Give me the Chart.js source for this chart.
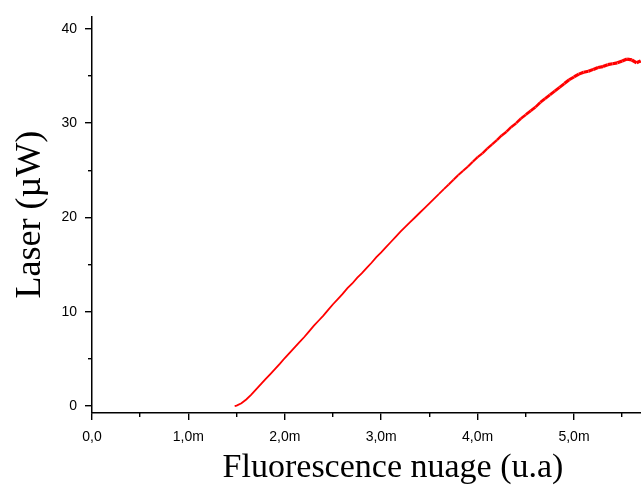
<!DOCTYPE html>
<html>
<head>
<meta charset="utf-8">
<script src="https://cdn.jsdelivr.net/npm/chart.js@4/dist/chart.umd.min.js"></script>
<style>
  html, body { margin: 0; padding: 0; background: #fff; overflow: hidden; }
  #wrap { position: relative; width: 695px; height: 488px; }
</style>
</head>
<body>
<div id="wrap"><canvas id="laserChart"></canvas></div>
<script>
// Fluorescence (mu.a, shown with "m" suffix) vs laser power (µW)
const fluoValues = [
  1.48, 1.50, 1.55, 1.60, 1.65, 1.70, 1.75, 1.80, 1.85, 1.90,
  1.95, 2.00, 2.05, 2.10, 2.15, 2.20, 2.25, 2.30, 2.35, 2.40,
  2.45, 2.50, 2.55, 2.60, 2.65, 2.70, 2.75, 2.80, 2.85, 2.90,
  2.95, 3.00, 3.05, 3.10, 3.15, 3.20, 3.25, 3.30, 3.35, 3.40,
  3.45, 3.50, 3.55, 3.60, 3.65, 3.70, 3.75, 3.80, 3.85, 3.90,
  3.95, 4.00, 4.05, 4.10, 4.15, 4.20, 4.25, 4.30, 4.35, 4.40,
  4.45, 4.50, 4.55, 4.60, 4.65, 4.70, 4.75, 4.80, 4.85, 4.90,
  4.95, 5.00, 5.05, 5.10, 5.15, 5.20, 5.25, 5.30, 5.35, 5.40,
  5.45, 5.50, 5.55, 5.60, 5.65, 5.69, 5.72
];
const laserValues = [
  0.0, 0.05, 0.3, 0.7, 1.2, 1.75, 2.3, 2.85, 3.4, 3.95,
  4.5, 5.1, 5.65, 6.2, 6.75, 7.3, 7.9, 8.5, 9.05, 9.6,
  10.2, 10.8, 11.35, 11.9, 12.5, 13.0, 13.6, 14.1, 14.65, 15.2,
  15.8, 16.3, 16.85, 17.4, 17.95, 18.5, 19.0, 19.5, 20.0, 20.5,
  21.0, 21.5, 22.0, 22.5, 23.0, 23.5, 24.0, 24.5, 24.95, 25.4,
  25.9, 26.4, 26.8, 27.3, 27.75, 28.2, 28.7, 29.1, 29.6, 30.0,
  30.5, 30.9, 31.3, 31.7, 32.2, 32.6, 33.0, 33.4, 33.8, 34.2,
  34.6, 34.9, 35.2, 35.4, 35.5, 35.7, 35.9, 36.0, 36.2, 36.3,
  36.4, 36.6, 36.8, 36.7, 36.4, 36.6, 36.5
];

const xMajorTicks = [0, 1, 2, 3, 4, 5, 6];
const xMinorTicks = [0.5, 1.5, 2.5, 3.5, 4.5, 5.5];
const yMajorTicks = [0, 10, 20, 30, 40];
const yMinorTicks = [5, 15, 25, 35];

const X_MIN = 0, X_MAX = 6.245;
const Y_MIN = -0.73, Y_MAX = 41.32;

const points = fluoValues.map((x, i) => ({ x: x, y: laserValues[i] }));

function fixedTicks(list) {
  return scale => { scale.ticks = list.map(v => ({ value: v })); };
}

function xLabel(v) {
  if (v === 0) return '0,0';
  return v.toFixed(1).replace('.', ',') + 'm';
}

const tickFont = { family: 'Liberation Sans', size: 14 };
const titleFont = { family: 'Liberation Serif', size: 34, lineHeight: 1 };

new Chart(document.getElementById('laserChart'), {
  type: 'line',
  data: {
    datasets: [{
      data: points,
      borderColor: '#ff0000',
      borderWidth: 1.8,
      pointRadius: 0,
      tension: 0,
      segment: {
        borderWidth: ctx => 1.8 + Math.max(0, ctx.p0.parsed.y - 22) * 0.1
      }
    }]
  },
  options: {
    responsive: true,
    maintainAspectRatio: false,
    animation: false,
    devicePixelRatio: 1,
    layout: { padding: { top: 8, left: 0, right: 0, bottom: 0 } },
    plugins: { legend: { display: false }, tooltip: { enabled: false } },
    scales: {
      x: {
        type: 'linear', position: 'bottom', weight: 1,
        min: X_MIN, max: X_MAX,
        afterBuildTicks: fixedTicks(xMajorTicks),
        afterFit: s => { s.height = 75; },
        grid: { drawOnChartArea: false, tickLength: 7, color: '#000', lineWidth: 1.4 },
        border: { display: true, color: '#000', width: 1.5 },
        ticks: { color: '#000', font: tickFont, padding: 9, maxRotation: 0, autoSkip: false, callback: xLabel },
        title: { display: true, text: 'Fluorescence nuage (u.a)', color: '#000', font: titleFont, padding: { top: 0, bottom: 2.5 } }
      },
      xMinor: {
        type: 'linear', position: 'bottom', weight: 0,
        min: X_MIN, max: X_MAX,
        afterBuildTicks: fixedTicks(xMinorTicks),
        afterFit: s => { s.height = 0; },
        grid: { drawOnChartArea: false, tickLength: 4, color: '#000', lineWidth: 1.4 },
        border: { display: false },
        ticks: { display: false }
      },
      y: {
        type: 'linear', position: 'left', weight: 1,
        min: Y_MIN, max: Y_MAX,
        afterBuildTicks: fixedTicks(yMajorTicks),
        afterFit: s => { s.width = 92; },
        grid: { drawOnChartArea: false, tickLength: 7, color: '#000', lineWidth: 1.4 },
        border: { display: true, color: '#000', width: 1.5 },
        ticks: { color: '#000', font: tickFont, padding: 8, autoSkip: false, callback: v => String(v) },
        title: { display: true, text: 'Laser (µW)', color: '#000', font: { family: 'Liberation Serif', size: 36, lineHeight: 1 }, padding: { top: 13, bottom: 0 } }
      },
      yMinor: {
        type: 'linear', position: 'left', weight: 0,
        min: Y_MIN, max: Y_MAX,
        afterBuildTicks: fixedTicks(yMinorTicks),
        afterFit: s => { s.width = 0; },
        grid: { drawOnChartArea: false, tickLength: 4, color: '#000', lineWidth: 1.4 },
        border: { display: false },
        ticks: { display: false }
      }
    }
  }
});
</script>
</body>
</html>
